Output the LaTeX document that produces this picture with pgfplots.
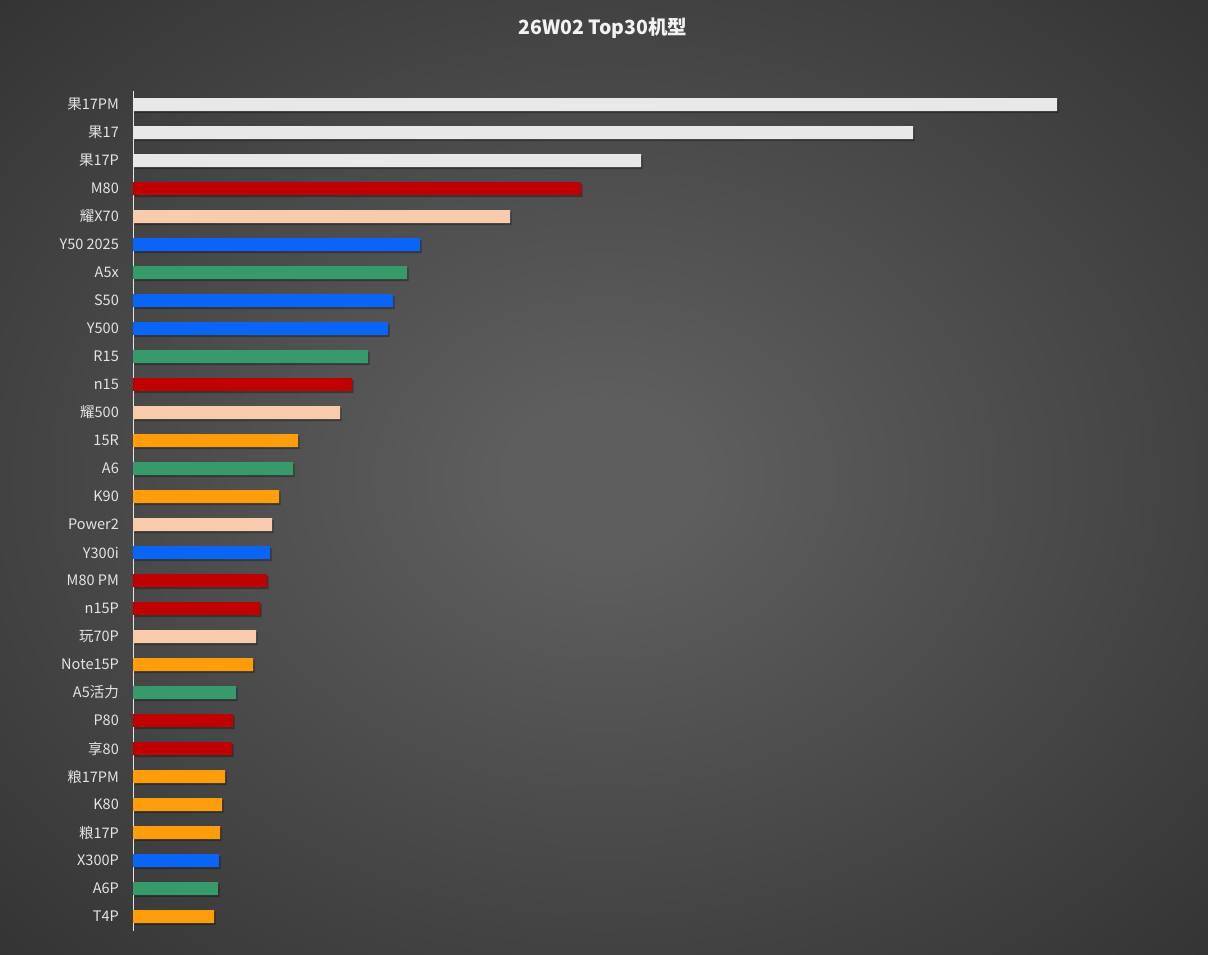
\documentclass[border=0pt]{standalone}
\usepackage{fontspec}
\setmainfont{Noto Sans CJK SC}
\usepackage{pgfplots}
\pgfplotsset{compat=1.18}
\usetikzlibrary{shadows}

\definecolor{bgin}{HTML}{5E5E5E}
\definecolor{bgout}{HTML}{2B2B2B}
\definecolor{cwhite}{HTML}{E8E8E8}
\definecolor{cred}{HTML}{C00000}
\definecolor{cpeach}{HTML}{F8CBAD}
\definecolor{cblue}{HTML}{0A64F5}
\definecolor{cgreen}{HTML}{379A6A}
\definecolor{corange}{HTML}{FF9E0A}
\definecolor{labelgray}{HTML}{E4E4E4}

\pgfdeclareradialshading{bg}{\pgfpoint{0bp}{0bp}}{color(0bp)=(bgin); color(4bp)=(bgin); color(42bp)=(bgout); color(100bp)=(bgout)}

\pgfplotsset{
  barstyle/.style={xbar, bar width=13pt, draw=none, fill=#1,
    drop shadow={shadow xshift=1.5pt, shadow yshift=-2pt, opacity=0.3, fill=black}},
}

\begin{document}
\begin{tikzpicture}[x=1pt,y=1pt]
\shade[shading=bg] (0,0) rectangle (1208,955);
\node[text=white!95!black, font=\bfseries\fontsize{19.5}{22}\selectfont] at (603,927) {26W02 Top30机型};

\begin{axis}[
    at={(133pt,24.5pt)}, anchor=south west,
    scale only axis,
    width=1000pt, height=840pt,
    xmin=0, xmax=1000,
    ymin=0.5, ymax=30.5,
    y dir=reverse,
    hide x axis,
    axis y line*=left,
    y axis line style={-, draw=labelgray, line width=0.8pt},
    ytick={1,...,30},
    yticklabels={果17PM,果17,果17P,M80,耀X70,Y50 2025,A5x,S50,Y500,R15,n15,耀500,15R,A6,K90,Power2,Y300i,M80 PM,n15P,玩70P,Note15P,A5活力,P80,享80,粮17PM,K80,粮17P,X300P,A6P,T4P},
    major tick length=0pt,
    yticklabel style={font=\fontsize{14.5}{16}\selectfont, text=labelgray, inner sep=0pt, xshift=-14pt},
    clip=false,
]
% bar lengths (pixels from the axis line)
\addplot[barstyle=cwhite] coordinates {(924,1) (780,2) (508,3)};
\addplot[barstyle=cred] coordinates {(448,4) (219,11) (134,18) (127,19) (100,23) (99,24)};
\addplot[barstyle=cpeach] coordinates {(377,5) (207,12) (139,16) (123,20)};
\addplot[barstyle=cblue] coordinates {(287,6) (260,8) (255,9) (137,17) (86,28)};
\addplot[barstyle=cgreen] coordinates {(274,7) (235,10) (160,14) (103,22) (85,29)};
\addplot[barstyle=corange] coordinates {(165,13) (146,15) (120,21) (92,25) (89,26) (87,27) (81,30)};
\end{axis}
\end{tikzpicture}
\end{document}
